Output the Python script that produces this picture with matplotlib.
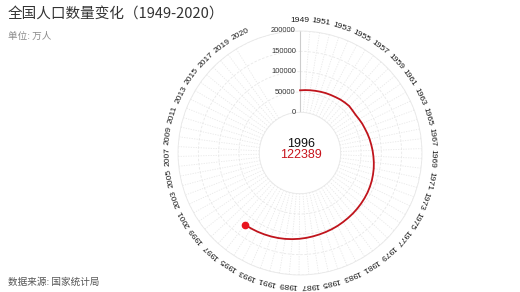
import numpy as np
import matplotlib
matplotlib.use("Agg")
import matplotlib.pyplot as plt

# data: year-end population (万人), animation frame stops at 1996
YEARS_AXIS = list(range(1949, 2021))
YEARS_SHOWN = list(range(1949, 1997))
POP_SHOWN = [54167, 55196, 56300, 57482, 58796, 60266, 61465, 62828, 64653, 65994,
             67207, 66207, 65859, 67296, 69172, 70499, 72538, 74542, 76368, 78534,
             80671, 82992, 85229, 87177, 89211, 90859, 92420, 93717, 94974, 96259,
             97542, 98705, 100072, 101654, 103008, 104357, 105851, 107507, 109300,
             111026, 112704, 114333, 115823, 117171, 118517, 119850, 121121, 122389]
R_TICKS = [0, 50000, 100000, 150000, 200000]

TITLE = "全国人口数量变化（1949-2020）"
SUBTITLE = "单位: 万人"
SOURCE = "数据来源: 国家统计局"

ANGLE_SPAN = 77.8  # angle axis spans a bit more than the 72 years
CJK = ["Noto Sans CJK SC", "DejaVu Sans"]
NUM = ["Liberation Sans", "DejaVu Sans"]


def to_theta(year):
    return np.deg2rad((np.asarray(year) - 1949) / ANGLE_SPAN * 360.0)


fig = plt.figure(figsize=(5.2, 2.92), dpi=100)
ax = fig.add_axes([178 / 520, 1 - 275 / 292, 244 / 520, 244 / 292], projection="polar")
ax.set_theta_zero_location("N")
ax.set_theta_direction(-1)
ax.set_ylim(0, 200000)
ax.set_rorigin(-100000)

# grid
ax.set_xticks(to_theta(YEARS_AXIS))
ax.set_xticklabels([])
ax.set_yticks(R_TICKS)
ax.set_yticklabels([])
ax.tick_params(length=0)
ax.xaxis.grid(True, color="#e8e8e8", lw=0.6, linestyle=(0, (1.5, 1.5)))
ax.yaxis.grid(True, color="#e8e8e8", lw=0.6, linestyle=(0, (3, 2)))
for sp in ax.spines.values():
    sp.set_color("#e8e8e8")
    sp.set_linewidth(0.6)

# radius axis line + labels
ax.plot([0, 0], [0, 200000], color="#cccccc", lw=0.8)
for v in R_TICKS:
    ax.annotate(str(v), (0, v), xytext=(-3, 0), textcoords="offset points",
                ha="right", va="center", fontsize=5.4, color="#333333", family=NUM)

# angle labels (every other year + last one nudged so it does not collide)
label_years = YEARS_AXIS[::2] + [YEARS_AXIS[-1]]
for y in label_years:
    th = to_theta(y + (1.0 if y == YEARS_AXIS[-1] else 0))
    ax.text(th, 226000, str(y), rotation=-np.rad2deg(th), rotation_mode="anchor",
            ha="center", va="center", fontsize=6.1, color="#1a1a1a", family=NUM,
            clip_on=False)

# series
ax.plot(to_theta(YEARS_SHOWN), POP_SHOWN, color="#c0141c", lw=1.3)
ax.plot(to_theta(YEARS_SHOWN[-1]), POP_SHOWN[-1], "o", color="#e8141e", ms=4.5)

# center readout
fig.text(301 / 520, 1 - 144 / 292, str(YEARS_SHOWN[-1]), ha="center", va="center",
         fontsize=9, color="#111111", family=NUM)
fig.text(301 / 520, 1 - 155 / 292, str(POP_SHOWN[-1]), ha="center", va="center",
         fontsize=9, color="#c8141c", family=NUM)

fig.text(8 / 520, 1 - 15 / 292, TITLE, ha="left", va="center", fontsize=10.5,
         color="#333333", family=CJK)
fig.text(8 / 520, 1 - 36 / 292, SUBTITLE, ha="left", va="center", fontsize=6.9,
         color="#8a8a8a", family=CJK)
fig.text(8 / 520, 1 - 282 / 292, SOURCE, ha="left", va="center", fontsize=6.9,
         color="#555555", family=CJK)

fig.savefig("out.png", dpi=100)
